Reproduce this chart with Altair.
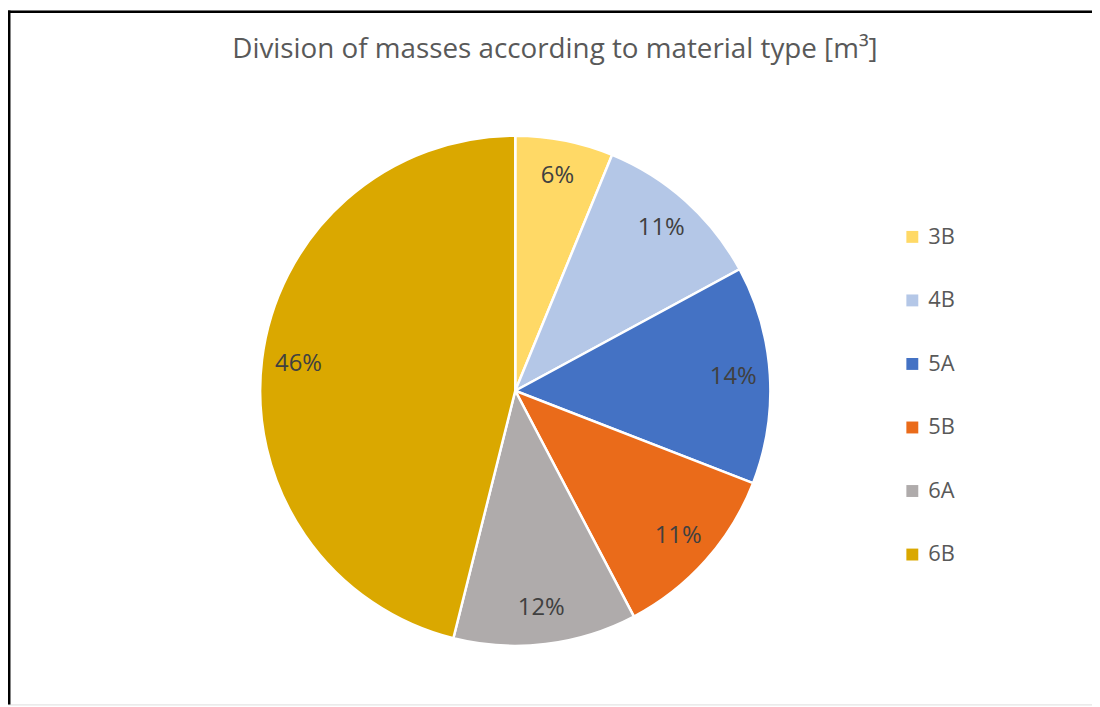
import altair as alt
import pandas as pd

categories = ["3B", "4B", "5A", "5B", "6A", "6B"]
shares = [6.2, 10.9, 13.8, 11.4, 11.6, 46.1]
labels = ["6%", "11%", "14%", "11%", "12%", "46%"]
colors = ["#FFD966", "#B4C7E7", "#4472C4", "#EA6B1A", "#AFABAB", "#DAA800"]
title_text = "Division of masses according to material type [m³]"

df = pd.DataFrame({
    "cat": categories,
    "value": shares,
    "label": labels,
    "order": list(range(len(categories))),
})

FONT = "Open Sans"
W, H = 1092, 699
CX, CY, R = 511, 383, 257

base = alt.Chart(df).encode(
    theta=alt.Theta("value:Q", stack=True),
    order=alt.Order("order:Q"),
)

arcs = base.mark_arc(stroke="white", strokeWidth=2.5).encode(
    x=alt.value(CX),
    y=alt.value(CY),
    radius=alt.value(R),
    color=alt.Color(
        "cat:N",
        scale=alt.Scale(domain=categories, range=colors),
        sort=categories,
        legend=alt.Legend(
            title=None,
            orient="none",
            legendX=900,
            legendY=217,
            symbolType="square",
            symbolSize=144,
            symbolStrokeWidth=0,
            labelFont=FONT,
            labelFontSize=22,
            labelColor="#595959",
            labelOffset=5,
            rowPadding=42,
        ),
    ),
)

texts = base.mark_text(font=FONT, fontSize=24, color="#404040").encode(
    x=alt.value(CX),
    y=alt.value(CY),
    radius=alt.value(220),
    text="label:N",
)

title = alt.Chart(pd.DataFrame({"t": [title_text]})).mark_text(
    font=FONT, fontSize=28, color="#595959"
).encode(
    x=alt.value(551),
    y=alt.value(40),
    text="t:N",
)

frame_left = alt.Chart(pd.DataFrame({"a": [0]})).mark_rect(
    color="black"
).encode(x=alt.value(0), x2=alt.value(2.5), y=alt.value(0), y2=alt.value(H))

frame_top = alt.Chart(pd.DataFrame({"a": [0]})).mark_rect(
    color="black"
).encode(x=alt.value(0), x2=alt.value(W), y=alt.value(0), y2=alt.value(2.5))

chart = alt.layer(arcs, texts, title, frame_left, frame_top).properties(
    width=W,
    height=H,
    padding=0,
    autosize=alt.AutoSizeParams(type="none"),
).configure_view(
    strokeWidth=0,
).configure(background="white")

chart.save("out.html", embed_options={"renderer": "svg", "actions": False})
